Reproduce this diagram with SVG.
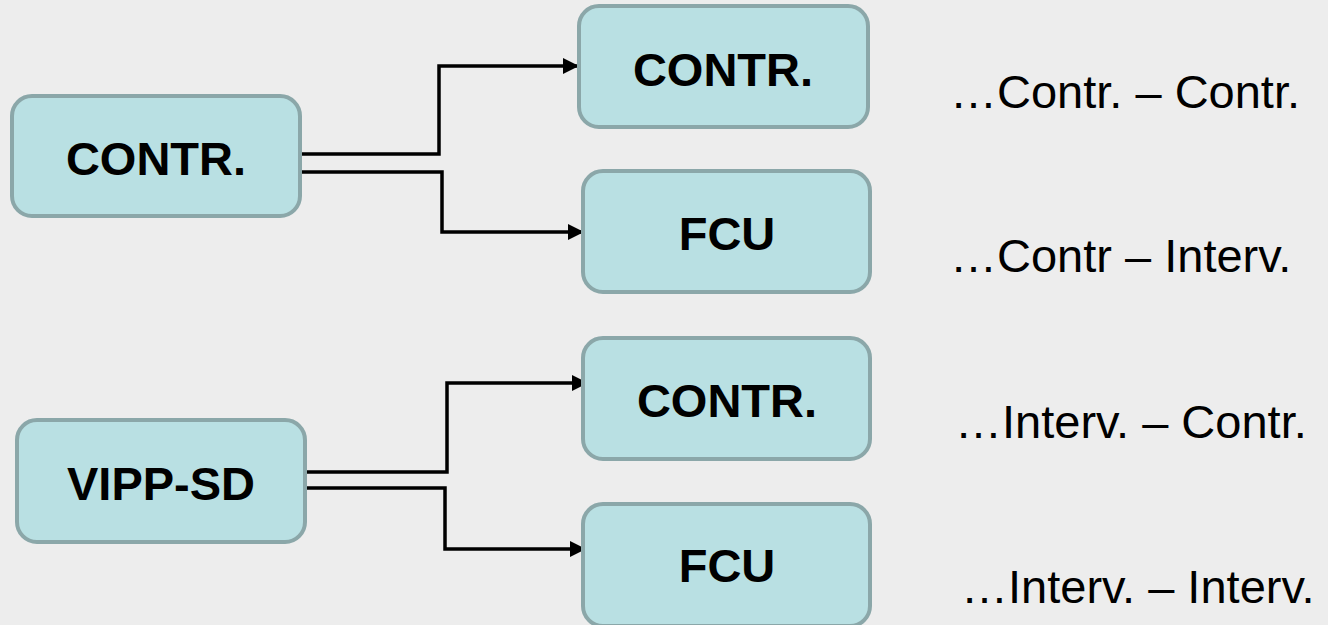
<svg xmlns="http://www.w3.org/2000/svg" width="1328" height="625" viewBox="0 0 1328 625">
<style>
.box{fill:#B9E0E3;stroke:#8BA7A9;stroke-width:4}
.lbl{font-family:"Liberation Sans",Arial,sans-serif;font-weight:bold;font-size:47px;fill:#000;text-anchor:middle}
.note{font-family:"Liberation Sans",Arial,sans-serif;font-size:47px;fill:#000}
.conn{fill:none;stroke:#000;stroke-width:3.5;stroke-linejoin:miter}
</style>
<defs>
<marker id="arr" markerUnits="userSpaceOnUse" markerWidth="16" markerHeight="16" viewBox="0 0 16 16" refX="15" refY="8" orient="auto">
<path d="M0,0 L16,8 L0,16 Z" fill="#000"/>
</marker>
</defs>
<rect width="1328" height="625" fill="#EDEDED"/>
<g id="connectors">
<path class="conn" d="M299,154 H439 V66 H578" marker-end="url(#arr)"/>
<path class="conn" d="M302,172 H442 V232 H583" marker-end="url(#arr)"/>
<path class="conn" d="M307,472 H447 V383 H587" marker-end="url(#arr)"/>
<path class="conn" d="M305,488 H445 V549 H585" marker-end="url(#arr)"/>
</g>
<g id="n1"><rect class="box" x="12" y="96" width="288" height="120" rx="20"/><text class="lbl" x="156" y="175">CONTR.</text></g>
<g id="n2"><rect class="box" x="579" y="6" width="289" height="121" rx="20"/><text class="lbl" x="723" y="86">CONTR.</text></g>
<g id="n3"><rect class="box" x="583" y="171" width="287" height="121" rx="20"/><text class="lbl" x="727" y="250">FCU</text></g>
<g id="n4"><rect class="box" x="17" y="420" width="288" height="122" rx="20"/><text class="lbl" x="161" y="500">VIPP-SD</text></g>
<g id="n5"><rect class="box" x="583" y="338" width="287" height="121" rx="20"/><text class="lbl" x="727" y="417">CONTR.</text></g>
<g id="n6"><rect class="box" x="583" y="504" width="287" height="122" rx="20"/><text class="lbl" x="727" y="582">FCU</text></g>
<g id="notes">
<text class="note" x="950" y="108">…Contr. – Contr.</text>
<text class="note" x="950" y="272">…Contr – Interv.</text>
<text class="note" x="955" y="438">…Interv. – Contr.</text>
<text class="note" x="961" y="603">…Interv. – Interv.</text>
</g>
</svg>
